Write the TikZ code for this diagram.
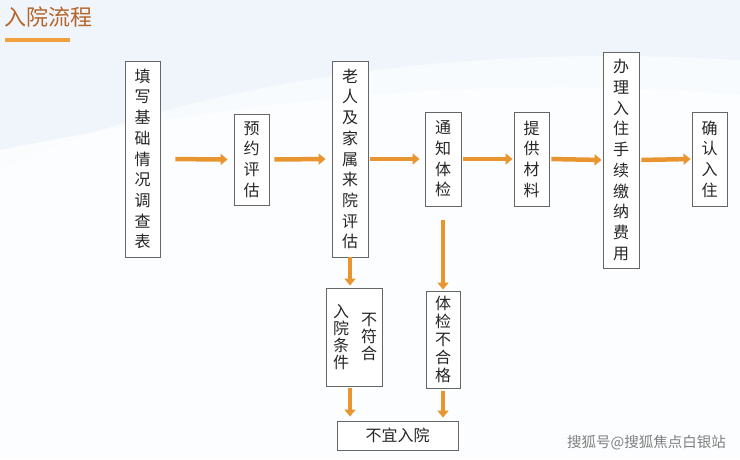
\documentclass[tikz,border=0pt]{standalone}
\usepackage{fontspec}
\setmainfont{Noto Sans CJK SC}
\usetikzlibrary{arrows.meta}
\definecolor{arrowor}{HTML}{E9952F}
\definecolor{titlec}{HTML}{B5652A}
\definecolor{barc}{HTML}{F0A03C}
\definecolor{boxc}{HTML}{666666}
\definecolor{bgc}{HTML}{F8FBFE}
\definecolor{swoosh}{HTML}{EAF2FA}
\tikzset{
  stepbox/.style={draw=boxc, line width=0.9pt, fill=white, inner sep=0pt, align=center,
    font=\fontsize{16}{20.7}\selectfont, text=black!85},
  flow/.style={draw=arrowor, line width=4.5pt, -{Triangle[width=11pt,length=7pt]}},
  bare/.style={inner sep=0pt, align=center, font=\fontsize{16}{17}\selectfont, text=black!85}
}
\begin{document}
\begin{tikzpicture}[x=1pt,y=-1pt]
\useasboundingbox (0,0) rectangle (740,459);
\fill[bgc] (0,0) rectangle (740,459);
\fill[swoosh, opacity=0.6] (0,170) .. controls (150,100) and (400,40) .. (740,60) -- (740,0) -- (0,0) -- cycle;
\fill[white, opacity=0.7] (0,150) .. controls (200,110) and (450,70) .. (740,95) -- (740,459) -- (0,459) -- cycle;
% title
\node[anchor=west, inner sep=0pt, font=\fontsize{22}{24}\selectfont, text=titlec] (title) at (4,17) {入院流程};
\fill[barc] (5,38) rectangle (70,42);
% boxes
\node[stepbox, minimum width=35pt, minimum height=196pt] (b1) at (142.5,159) {填\\写\\基\\础\\情\\况\\调\\查\\表};
\node[stepbox, minimum width=35pt, minimum height=91pt] (b2) at (251.5,159.5) {预\\约\\评\\估};
\node[stepbox, minimum width=36pt, minimum height=196pt] (b3) at (350,159) {老\\人\\及\\家\\属\\来\\院\\评\\估};
\node[stepbox, minimum width=36pt, minimum height=94pt] (b4) at (443,159) {通\\知\\体\\检};
\node[stepbox, minimum width=35pt, minimum height=94pt] (b5) at (531.5,159) {提\\供\\材\\料};
\node[stepbox, minimum width=36pt, minimum height=216pt] (b6) at (621,160) {办\\理\\入\\住\\手\\续\\缴\\纳\\费\\用};
\node[stepbox, minimum width=35pt, minimum height=94pt] (b7) at (709.5,159) {确\\认\\入\\住};
% reject boxes
\node[stepbox, minimum width=56pt, minimum height=98pt] (nc) at (354,337) {};
\node[bare] (nc1) at (369,337) {不\\符\\合};
\node[bare] (nc2) at (341,337) {入\\院\\条\\件};
\node[stepbox, minimum width=34pt, minimum height=97pt, font=\fontsize{16}{18}\selectfont] (nh) at (443,339.5) {体\\检\\不\\合\\格};
\node[stepbox, minimum width=121pt, minimum height=29pt] (bad) at (397.5,435.5) {不宜入院};
% horizontal arrows
\draw[flow, shorten <=15pt, shorten >=6pt] (b1.east) -- (b2.west);
\draw[flow, shorten <=5pt, shorten >=6pt] (b2.east) -- (b3.west);
\draw[flow, shorten <=2pt, shorten >=5pt] (b3.east) -- (b4.west);
\draw[flow, shorten <=2pt, shorten >=1pt] (b4.east) -- (b5.west);
\draw[flow, shorten <=2pt, shorten >=1pt] (b5.east) -- (b6.west);
\draw[flow, shorten <=2pt, shorten >=1pt] (b6.east) -- (b7.west);
% vertical arrows
\draw[flow, shorten <=0pt, shorten >=2pt] (b3.south) -- (b3.south |- nc.north);
\draw[flow, shorten <=14pt, shorten >=1pt] (b4.south) -- (nh.north);
\draw[flow, shorten <=2pt, shorten >=4pt] (b3.south |- nc.south) -- (b3.south |- bad.north);
\draw[flow, shorten <=3pt, shorten >=3pt] (nh.south) -- (nh.south |- bad.north);
% watermark
\node[anchor=east, inner sep=0pt, font=\fontsize{14.5}{16}\selectfont, text=black!50] (wm) at (726,443) {搜狐号@搜狐焦点白银站};
\end{tikzpicture}
\end{document}
